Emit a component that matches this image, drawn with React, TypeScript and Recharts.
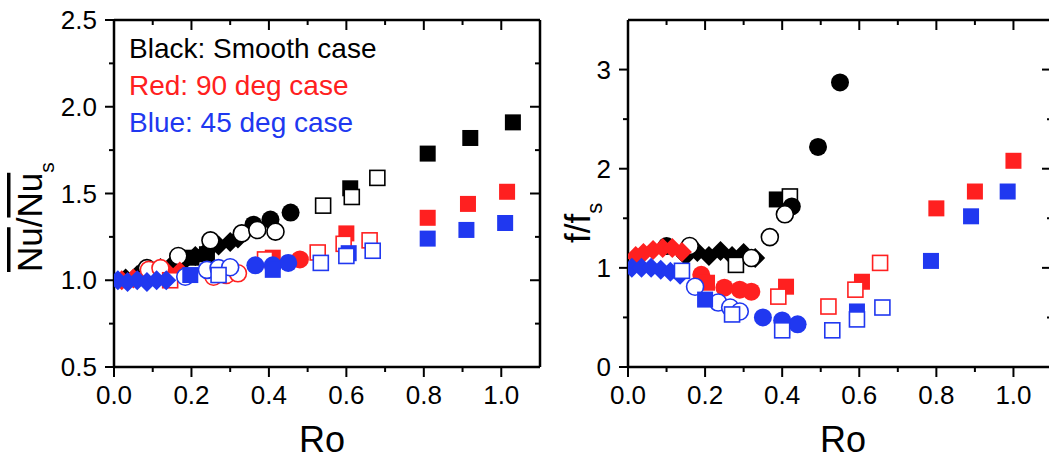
import React from 'react';
import { ScatterChart, Scatter, XAxis, YAxis } from 'recharts';

type Pt = [number, number];

// ---------- LEFT PANEL: Nu/Nu_s vs Ro ----------
const nuBlackDiamond: Pt[] = [[0.03, 1.01], [0.06, 1.03], [0.09, 1.05], [0.12, 1.07], [0.15, 1.09], [0.18, 1.11], [0.21, 1.14], [0.24, 1.17], [0.27, 1.2], [0.3, 1.22], [0.32, 1.24]];
const nuBlackSqFilled: Pt[] = [[0.2, 1.13], [0.24, 1.15], [0.61, 1.53], [0.81, 1.73], [0.92, 1.82], [1.03, 1.91]];
const nuBlackSqOpen: Pt[] = [[0.54, 1.43], [0.614, 1.48], [0.68, 1.59]];
const nuBlackCircFilled: Pt[] = [[0.36, 1.32], [0.404, 1.35], [0.456, 1.39]];
const nuBlackCircOpen: Pt[] = [[0.085, 1.07], [0.166, 1.14], [0.249, 1.23], [0.33, 1.27], [0.37, 1.29], [0.417, 1.28]];

const nuRedDiamond: Pt[] = [[0.02, 1.0], [0.05, 1.01], [0.08, 1.02], [0.11, 1.03], [0.14, 1.04], [0.17, 1.05]];
const nuRedCircOpen: Pt[] = [[0.09, 1.06], [0.12, 1.07], [0.257, 1.02], [0.29, 1.03], [0.32, 1.04]];
const nuRedCircFilled: Pt[] = [[0.48, 1.12]];
const nuRedSqFilled: Pt[] = [[0.41, 1.13], [0.6, 1.27], [0.81, 1.36], [0.914, 1.44], [1.015, 1.51]];
const nuRedSqOpen: Pt[] = [[0.145, 1.0], [0.39, 1.12], [0.526, 1.16], [0.593, 1.21], [0.66, 1.23]];

const nuBlueDiamond: Pt[] = [[0.01, 1.0], [0.035, 0.99], [0.06, 1.0], [0.085, 0.99], [0.11, 1.0], [0.135, 1.0]];
const nuBlueCircOpen: Pt[] = [[0.184, 1.02], [0.24, 1.06], [0.27, 1.07], [0.3, 1.075]];
const nuBlueCircFilled: Pt[] = [[0.365, 1.086], [0.41, 1.086], [0.45, 1.1]];
const nuBlueSqFilled: Pt[] = [[0.197, 1.03], [0.41, 1.06], [0.606, 1.156], [0.81, 1.24], [0.91, 1.29], [1.01, 1.33]];
const nuBlueSqOpen: Pt[] = [[0.27, 1.03], [0.534, 1.1], [0.6, 1.14], [0.668, 1.17]];

// ---------- RIGHT PANEL: f/f_s vs Ro ----------
const fBlackDiamond: Pt[] = [[0.15, 1.12], [0.18, 1.16], [0.21, 1.12], [0.24, 1.17], [0.27, 1.12], [0.3, 1.15], [0.33, 1.1]];
const fBlackSqFilled: Pt[] = [[0.386, 1.69]];
const fBlackSqOpen: Pt[] = [[0.28, 1.03], [0.42, 1.72]];
const fBlackCircFilled: Pt[] = [[0.1, 1.22], [0.425, 1.62], [0.493, 2.22], [0.55, 2.87]];
const fBlackCircOpen: Pt[] = [[0.16, 1.22], [0.32, 1.1], [0.368, 1.31], [0.407, 1.54]];

const fRedDiamond: Pt[] = [[0.02, 1.12], [0.04, 1.15], [0.065, 1.18], [0.09, 1.2], [0.115, 1.2], [0.14, 1.16]];
const fRedCircFilled: Pt[] = [[0.19, 0.93], [0.25, 0.8], [0.29, 0.78], [0.32, 0.76]];
const fRedSqFilled: Pt[] = [[0.205, 0.85], [0.41, 0.81], [0.607, 0.86], [0.8, 1.6], [0.9, 1.77], [1.0, 2.08]];
const fRedSqOpen: Pt[] = [[0.39, 0.71], [0.52, 0.61], [0.59, 0.78], [0.654, 1.05]];

const fBlueDiamond: Pt[] = [[0.01, 1.0], [0.035, 1.0], [0.06, 1.0], [0.085, 0.98], [0.11, 0.96], [0.135, 0.93]];
const fBlueCircOpen: Pt[] = [[0.174, 0.81], [0.234, 0.65], [0.265, 0.6], [0.29, 0.56]];
const fBlueCircFilled: Pt[] = [[0.35, 0.5], [0.4, 0.47], [0.44, 0.43]];
const fBlueSqFilled: Pt[] = [[0.2, 0.68], [0.4, 0.4], [0.594, 0.56], [0.786, 1.07], [0.89, 1.52], [0.985, 1.77]];
const fBlueSqOpen: Pt[] = [[0.14, 0.97], [0.27, 0.53], [0.4, 0.37], [0.53, 0.37], [0.594, 0.48], [0.66, 0.6]];

// ---------- ticks ----------
const roTicks = [0, 0.1, 0.2, 0.3, 0.4, 0.5, 0.6, 0.7, 0.8, 0.9, 1.0];
const nuTicks = [0.5, 0.75, 1.0, 1.25, 1.5, 1.75, 2.0, 2.25, 2.5];
const fTicks = [0, 0.5, 1, 1.5, 2, 2.5, 3];

const BLACK = '#000000';
const RED = '#ff2020';
const BLUE = '#2038f0';
const FONT = '"Liberation Sans", Arial, sans-serif';

const toData = (pts: Pt[]) => pts.map(([x, y]) => ({ x, y }));

type Kind = 'sq' | 'ci' | 'di';
function makeShape(kind: Kind, color: string, open: boolean) {
  return (props: any) => {
    const { cx, cy } = props;
    if (cx == null || cy == null) return <g />;
    const fill = open ? '#ffffff' : color;
    const stroke = open ? color : 'none';
    const sw = open ? 1.6 : 0;
    if (kind === 'sq') {
      const h = open ? 7.5 : 8;
      return <rect x={cx - h} y={cy - h} width={2 * h} height={2 * h} fill={fill} stroke={stroke} strokeWidth={sw} />;
    }
    if (kind === 'ci') {
      const r = open ? 8.5 : 9;
      return <circle cx={cx} cy={cy} r={r} fill={fill} stroke={stroke} strokeWidth={sw} />;
    }
    const d = 10;
    return <path d={`M${cx},${cy - d}L${cx + d},${cy}L${cx},${cy + d}L${cx - d},${cy}Z`} fill={fill} stroke={stroke} strokeWidth={sw} />;
  };
}

const isMajorRo = (v: number) => Math.round(v * 10) % 2 === 0;
const isMajorNu = (v: number) => Math.round(v * 4) % 2 === 0;
const isMajorF = (v: number) => Math.round(v * 2) % 2 === 0;

function BottomTick(props: any) {
  const { x, y, payload } = props;
  const v = payload.value as number;
  const major = isMajorRo(v);
  return (
    <g>
      <line x1={x} y1={y} x2={x} y2={y + (major ? 10 : 5)} stroke="#000" strokeWidth={2} />
      {major && (
        <text x={x} y={y + 37} textAnchor="middle" fontSize={26} fontFamily={FONT} fill="#000">
          {v.toFixed(1)}
        </text>
      )}
    </g>
  );
}
function TopTick(props: any) {
  const { x, y, payload } = props;
  const major = isMajorRo(payload.value);
  return <line x1={x} y1={y} x2={x} y2={y + (major ? 10 : 5)} stroke="#000" strokeWidth={2} />;
}
function makeLeftTick(isMajor: (v: number) => boolean, fmt: (v: number) => string) {
  return (props: any) => {
    const { x, y, payload } = props;
    const v = payload.value as number;
    const major = isMajor(v);
    return (
      <g>
        <line x1={x - (major ? 9 : 5)} y1={y} x2={x} y2={y} stroke="#000" strokeWidth={2} />
        {major && (
          <text x={x - 17} y={y + 9} textAnchor="end" fontSize={26} fontFamily={FONT} fill="#000">
            {fmt(v)}
          </text>
        )}
      </g>
    );
  };
}
function makeRightTick(isMajor: (v: number) => boolean) {
  return (props: any) => {
    const { x, y, payload } = props;
    const major = isMajor(payload.value);
    return <line x1={x - (major ? 10 : 5)} y1={y} x2={x} y2={y} stroke="#000" strokeWidth={2} />;
  };
}

const axisLine = { stroke: '#000', strokeWidth: 2.5 };

type Series = { pts: Pt[]; kind: Kind; color: string; open: boolean };

const leftSeries: Series[] = [
  { pts: nuBlackDiamond, kind: 'di', color: BLACK, open: false },
  { pts: nuBlackSqFilled, kind: 'sq', color: BLACK, open: false },
  { pts: nuBlackSqOpen, kind: 'sq', color: BLACK, open: true },
  { pts: nuBlackCircFilled, kind: 'ci', color: BLACK, open: false },
  { pts: nuBlackCircOpen, kind: 'ci', color: BLACK, open: true },
  { pts: nuRedDiamond, kind: 'di', color: RED, open: false },
  { pts: nuRedCircOpen, kind: 'ci', color: RED, open: true },
  { pts: nuRedCircFilled, kind: 'ci', color: RED, open: false },
  { pts: nuRedSqFilled, kind: 'sq', color: RED, open: false },
  { pts: nuRedSqOpen, kind: 'sq', color: RED, open: true },
  { pts: nuBlueDiamond, kind: 'di', color: BLUE, open: false },
  { pts: nuBlueCircOpen, kind: 'ci', color: BLUE, open: true },
  { pts: nuBlueCircFilled, kind: 'ci', color: BLUE, open: false },
  { pts: nuBlueSqFilled, kind: 'sq', color: BLUE, open: false },
  { pts: nuBlueSqOpen, kind: 'sq', color: BLUE, open: true },
];

const rightSeries: Series[] = [
  { pts: fBlackDiamond, kind: 'di', color: BLACK, open: false },
  { pts: fBlackSqFilled, kind: 'sq', color: BLACK, open: false },
  { pts: fBlackSqOpen, kind: 'sq', color: BLACK, open: true },
  { pts: fBlackCircFilled, kind: 'ci', color: BLACK, open: false },
  { pts: fBlackCircOpen, kind: 'ci', color: BLACK, open: true },
  { pts: fRedDiamond, kind: 'di', color: RED, open: false },
  { pts: fRedCircFilled, kind: 'ci', color: RED, open: false },
  { pts: fRedSqFilled, kind: 'sq', color: RED, open: false },
  { pts: fRedSqOpen, kind: 'sq', color: RED, open: true },
  { pts: fBlueDiamond, kind: 'di', color: BLUE, open: false },
  { pts: fBlueCircOpen, kind: 'ci', color: BLUE, open: true },
  { pts: fBlueCircFilled, kind: 'ci', color: BLUE, open: false },
  { pts: fBlueSqFilled, kind: 'sq', color: BLUE, open: false },
  { pts: fBlueSqOpen, kind: 'sq', color: BLUE, open: true },
];

function Panel(props: {
  width: number; marginRight: number; yWidth: number; yDomain: [number, number];
  yTicks: number[]; isMajorY: (v: number) => boolean; fmtY: (v: number) => string; series: Series[];
}) {
  const { width, marginRight, yWidth, yDomain, yTicks, isMajorY, fmtY, series } = props;
  return (
    <ScatterChart width={width} height={462} margin={{ top: 19, right: marginRight - 1, bottom: 94, left: 0 }}>
      <XAxis xAxisId="b" dataKey="x" type="number" domain={[0, 1.1]} ticks={roTicks} interval={0}
        orientation="bottom" height={1} tickSize={0} tickMargin={0} tickLine={false} axisLine={axisLine}
        tick={(p: any) => <BottomTick {...p} />} allowDataOverflow />
      <XAxis xAxisId="t" dataKey="x" type="number" domain={[0, 1.1]} ticks={roTicks} interval={0}
        orientation="top" height={1} tickSize={0} tickMargin={0} tickLine={false} axisLine={axisLine}
        tick={(p: any) => <TopTick {...p} />} allowDataOverflow />
      <YAxis yAxisId="l" dataKey="y" type="number" domain={yDomain} ticks={yTicks} interval={0}
        orientation="left" width={yWidth} tickSize={0} tickMargin={0} tickLine={false} axisLine={axisLine}
        tick={makeLeftTick(isMajorY, fmtY)} allowDataOverflow />
      <YAxis yAxisId="r" dataKey="y" type="number" domain={yDomain} ticks={yTicks} interval={0}
        orientation="right" width={1} tickSize={0} tickMargin={0} tickLine={false} axisLine={axisLine}
        tick={makeRightTick(isMajorY)} allowDataOverflow />
      {series.map((s, i) => (
        <Scatter key={i} xAxisId="b" yAxisId="l" data={toData(s.pts)} shape={makeShape(s.kind, s.color, s.open)}
          isAnimationActive={false} />
      ))}
    </ScatterChart>
  );
}

export default function App() {
  return (
    <div style={{ position: 'absolute', left: 0, top: 0, width: 1049, height: 462, overflow: 'hidden', background: '#fff' }}>
      <div style={{ position: 'absolute', left: 0, top: 0 }}>
        <Panel width={560} marginRight={20} yWidth={114} yDomain={[0.5, 2.5]} yTicks={nuTicks}
          isMajorY={isMajorNu} fmtY={(v) => v.toFixed(1)} series={leftSeries} />
      </div>
      <div style={{ position: 'absolute', left: 560, top: 0 }}>
        <Panel width={500} marginRight={8} yWidth={68} yDomain={[0, 3.5]} yTicks={fTicks}
          isMajorY={isMajorF} fmtY={(v) => String(Math.round(v))} series={rightSeries} />
      </div>
      <svg width={1049} height={462} style={{ position: 'absolute', left: 0, top: 0, pointerEvents: 'none' }}
        fontFamily={FONT}>
        <text x={129} y={58} fontSize={28} fill={BLACK}>Black: Smooth case</text>
        <text x={129} y={95} fontSize={28} fill={RED}>Red: 90 deg case</text>
        <text x={129} y={132} fontSize={28} fill={BLUE}>Blue: 45 deg case</text>
        <text x={322} y={452} fontSize={36} textAnchor="middle" fill="#000">Ro</text>
        <text x={843} y={452} fontSize={36} textAnchor="middle" fill="#000">Ro</text>
        <text transform="translate(42,272) rotate(-90)" fontSize={35} fill="#000">
          <tspan style={{ textDecoration: 'overline' }}>Nu</tspan>
          <tspan>/</tspan>
          <tspan style={{ textDecoration: 'overline' }}>Nu</tspan>
          <tspan fontSize={21} dy={12}>s</tspan>
        </text>
        <text transform="translate(590,243) rotate(-90)" fontSize={35} fill="#000">
          <tspan>f/f</tspan>
          <tspan fontSize={22} dy={12}>s</tspan>
        </text>
      </svg>
    </div>
  );
}
